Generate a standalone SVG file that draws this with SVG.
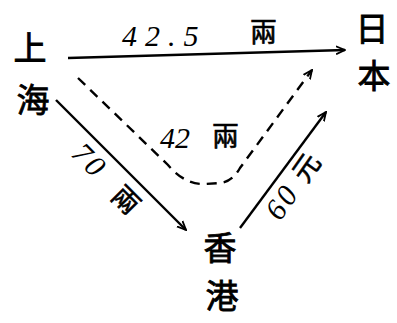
<svg xmlns="http://www.w3.org/2000/svg" width="397" height="323" viewBox="0 0 397 323">
<defs>
<marker id="ah" viewBox="0 0 10 10" refX="9" refY="5" markerWidth="10" markerHeight="10" markerUnits="userSpaceOnUse" orient="auto">
<path d="M0,1 L9,5 L0,9" fill="none" stroke="#000" stroke-width="1.8"/>
</marker>
<style>
.city{font-family:"Noto Sans CJK SC","Noto Sans CJK JP",serif;font-size:33px;fill:#000;stroke:#000;stroke-width:0.8;text-anchor:middle}
.lbl{font-family:"Liberation Serif","Noto Sans CJK SC",serif;font-style:italic;font-size:30px;fill:#000}
.cj{font-family:"Noto Sans CJK SC","Noto Sans CJK TC",serif;font-size:27px;fill:#000;stroke:#000;stroke-width:0.6}
.ln{fill:none;stroke:#000;stroke-width:2.4;marker-end:url(#ah)}
.dash{stroke-dasharray:10,7}
</style>
</defs>
<rect width="397" height="323" fill="#fff"/>
<g id="shanghai"><text class="city" x="30" y="60">上</text><text class="city" x="33" y="112">海</text></g>
<g id="japan"><text class="city" x="372" y="41">日</text><text class="city" x="374" y="88">本</text></g>
<g id="hongkong"><text class="city" x="220" y="260">香</text><text class="city" x="222" y="308">港</text></g>
<g id="connectors">
<path class="ln" d="M68,58 L345,50"/>
<path class="ln dash" d="M78,78 L168,165 Q185,185 205,184 L220,183 Q232,182 240,168 L312,70"/>
<path class="ln" d="M56,100 L186,230"/>
<path class="ln" d="M240,228 L326,112"/>
</g>
<g id="labels">
<text class="lbl" x="122" y="46" letter-spacing="8">42.5</text>
<text class="cj" x="250" y="42">兩</text>
<text class="lbl" x="160" y="148">42</text>
<text class="cj" x="212" y="146">兩</text>
<g transform="translate(70,155) rotate(45)"><text class="lbl" x="0" y="0" letter-spacing="3">70</text><text class="cj" x="58" y="2">兩</text></g>
<g transform="translate(280,222) rotate(-55)"><text class="lbl" x="0" y="0" letter-spacing="3">60</text><text class="cj" x="46" y="0">元</text></g>
</g>
</svg>
